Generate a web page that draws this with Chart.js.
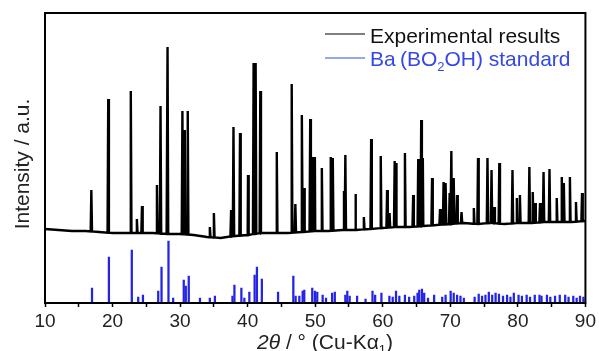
<!DOCTYPE html>
<html>
<head>
<meta charset="utf-8">
<script src="https://cdn.jsdelivr.net/npm/chart.js@4/dist/chart.umd.min.js"></script>
<style>
  body { margin: 0; background: #fff; }
  #wrap { width: 599px; height: 351px; }
</style>
</head>
<body>
<div id="wrap"><canvas id="xrd"></canvas></div>
<script>
// x tick labels (2theta, degrees)
const xTickLabels = [10, 20, 30, 40, 50, 60, 70, 80, 90];

// experimental pattern: background level read every 2 degrees (arbitrary units)
const baseDeg   = [10, 12, 14, 16, 18, 20, 22, 24, 26, 28, 30, 32, 34, 36, 38, 40, 42, 44, 46, 48,
                   50, 52, 54, 56, 58, 60, 62, 64, 66, 68, 70, 72, 74, 76, 78, 80, 82, 84, 86, 88, 90];
const baseLevel = [74, 73, 72, 72, 71, 70, 70, 70, 70, 69, 69, 68, 66, 65, 67, 68, 70, 70, 70, 71,
                   72, 72, 73, 73, 74, 75, 76, 76, 77, 78, 79, 80, 79, 80, 79, 80, 80, 81, 81, 81, 82];

// experimental peaks: position and peak top
const expPeakPos = [16.86, 19.36, 22.70, 23.60, 24.36, 26.57, 27.10, 28.14, 30.34, 30.69, 31.13, 34.40,
                    35.00, 37.55, 37.90, 38.87, 40.05, 40.88, 41.18, 41.87, 44.31, 46.52, 47.06, 48.04,
                    48.34, 49.26, 49.60, 49.95, 50.98, 52.30, 52.60, 54.26, 54.46, 55.99, 57.20, 58.28,
                    59.70, 60.64, 61.00, 61.76, 61.96, 63.28, 64.50, 65.25, 65.69, 65.93, 67.30, 68.48,
                    69.00, 69.30, 69.90, 70.15, 70.50, 71.00, 71.66, 73.48, 74.10, 75.50, 76.10, 76.50,
                    77.25, 79.20, 79.85, 80.30, 81.70, 82.20, 82.55, 83.28, 83.80, 84.68, 85.75, 86.50,
                    86.80, 87.70, 88.60, 89.50];
const expPeakTop = [113, 204, 212, 84, 97, 118, 197, 256, 192, 173, 192, 76,
                    90, 93, 176, 170, 128, 240, 240, 212, 151, 219, 99, 188,
                    115, 184, 146, 146, 135, 146, 145, 112, 148, 109, 86, 164,
                    147, 113, 90, 142, 140, 150, 108, 144, 183, 145, 125, 94,
                    121, 120, 110, 152, 125, 108, 91, 95, 145, 145, 133, 96,
                    140, 133, 105, 108, 136, 111, 100, 100, 131, 134, 105, 126,
                    120, 126, 101, 110];

// Ba(BO2OH) standard lines
const stdPos = [16.96, 19.46, 22.85, 23.80, 24.50, 26.76, 27.25, 28.28, 28.97, 30.54, 30.84, 31.28,
                32.94, 34.40, 35.15, 37.75, 38.04, 39.07, 39.51, 40.25, 41.03, 41.37, 42.10, 44.50,
                46.76, 47.10, 47.65, 48.14, 48.38, 49.56, 49.95, 50.30, 51.10, 51.60, 52.50, 52.90,
                54.46, 54.75, 55.10, 56.20, 57.45, 58.48, 58.87, 59.80, 60.98, 61.47, 61.96, 62.45,
                63.28, 63.90, 64.66, 65.15, 65.40, 65.80, 66.13, 66.70, 67.60, 68.80, 69.30, 70.05,
                70.50, 71.00, 71.50, 72.00, 73.60, 74.20, 74.70, 75.20, 75.70, 76.20, 76.70, 77.20,
                77.80, 78.40, 78.90, 79.40, 80.10, 80.60, 81.30, 81.80, 82.50, 83.20, 83.50, 84.30,
                84.80, 85.50, 86.20, 87.00, 87.50, 88.20, 88.70, 89.20, 89.70];
const stdHeight = [15, 46, 53, 6, 8, 12, 36, 62, 5, 23, 17, 27,
                   5, 5, 7, 7, 18, 15, 5, 11, 28, 36, 24, 11,
                   27, 7, 7, 12, 13, 15, 12, 11, 8, 5, 10, 11,
                   8, 12, 7, 7, 4, 12, 8, 10, 7, 6, 12, 7,
                   8, 6, 7, 10, 13, 14, 10, 5, 8, 6, 8, 12,
                   10, 8, 7, 5, 6, 9, 7, 8, 11, 8, 10, 9,
                   7, 8, 6, 10, 8, 7, 8, 6, 8, 8, 7, 8,
                   6, 7, 8, 8, 6, 7, 5, 7, 6];

const FONT = '"Liberation Sans", Arial, sans-serif';
const BLUE = '#2424e6';

function baseAt(x) {
  for (let i = 1; i < baseDeg.length; i++) {
    if (x <= baseDeg[i]) {
      const t = (x - baseDeg[i - 1]) / (baseDeg[i] - baseDeg[i - 1]);
      return baseLevel[i - 1] + t * (baseLevel[i] - baseLevel[i - 1]);
    }
  }
  return baseLevel[baseLevel.length - 1];
}

const expData = baseDeg.map((x, i) => ({x: x, y: baseLevel[i]}));
expPeakPos.forEach((x, i) => {
  const b = baseAt(x);
  expData.push({x: x - 0.1, y: b}, {x: x, y: expPeakTop[i]}, {x: x + 0.1, y: b});
});
expData.sort((a, b) => a.x - b.x);

const stdData = stdPos.map((x, i) => ({x: x, y: stdHeight[i]}));

// writes text pieces one after another; sub pieces are smaller and lowered
function drawRun(ctx, parts, x, y) {
  parts.forEach(p => {
    ctx.font = p.f;
    ctx.fillText(p.t, x, y + (p.dy || 0));
    x += ctx.measureText(p.t).width;
  });
}
function runWidth(ctx, parts) {
  let w = 0;
  parts.forEach(p => { ctx.font = p.f; w += ctx.measureText(p.t).width; });
  return w;
}

// draws the frame, the axis titles and the legend
const decor = {
  id: 'decor',
  afterDraw(chart) {
    const {ctx, chartArea: a} = chart;
    ctx.save();
    ctx.strokeStyle = '#000';
    ctx.lineWidth = 2;
    ctx.strokeRect(a.left, a.top, a.right - a.left, a.bottom - a.top);

    // y title
    ctx.fillStyle = '#222';
    ctx.font = '21px ' + FONT;
    ctx.textAlign = 'center';
    ctx.textBaseline = 'middle';
    ctx.translate(23, 164);
    ctx.rotate(-Math.PI / 2);
    ctx.fillText('Intensity / a.u.', 0, 0);
    ctx.setTransform(1, 0, 0, 1, 0, 0);

    // x title with italic 2theta and subscript 1
    ctx.textAlign = 'left';
    ctx.textBaseline = 'alphabetic';
    const xt = [
      {t: '2\u03B8', f: 'italic 21px ' + FONT},
      {t: ' / \u00B0 (Cu-K\u03B1', f: '21px ' + FONT},
      {t: '1', f: '13px ' + FONT, dy: 5},
      {t: ')', f: '21px ' + FONT}
    ];
    drawRun(ctx, xt, 325 - runWidth(ctx, xt) / 2, 349);

    // legend
    ctx.lineWidth = 1.2;
    ctx.strokeStyle = '#000';
    ctx.beginPath(); ctx.moveTo(325, 34); ctx.lineTo(365, 34); ctx.stroke();
    ctx.strokeStyle = '#3050e0';
    ctx.beginPath(); ctx.moveTo(325, 58); ctx.lineTo(365, 58); ctx.stroke();
    ctx.fillStyle = '#111';
    drawRun(ctx, [{t: 'Experimental results', f: '21px ' + FONT}], 370, 43);
    ctx.fillStyle = '#3348e6';
    drawRun(ctx, [
      {t: 'Ba\u2009(BO', f: '21px ' + FONT},
      {t: '2', f: '13px ' + FONT, dy: 5},
      {t: 'OH) standard', f: '21px ' + FONT}
    ], 370, 66);
    ctx.restore();
  }
};

new Chart(document.getElementById('xrd'), {
  type: 'line',
  data: {
    datasets: [
      {
        label: 'Experimental results',
        data: expData,
        borderColor: '#000',
        borderWidth: 2.4,
        pointRadius: 0,
        tension: 0
      },
      {
        type: 'bar',
        label: 'Ba(BO2OH) standard',
        data: stdData,
        backgroundColor: BLUE,
        barThickness: 1.6,
        grouped: false
      }
    ]
  },
  options: {
    responsive: true,
    maintainAspectRatio: false,
    animation: false,
    layout: { padding: { left: 45, right: 10, top: 13, bottom: 0 } },
    plugins: {
      legend: { display: false },
      tooltip: { enabled: false }
    },
    scales: {
      x: {
        type: 'linear',
        min: 10,
        max: 90,
        offset: false,
        grid: {
          offset: false,
          drawOnChartArea: false,
          drawTicks: true,
          tickLength: 4,
          tickColor: '#000',
          tickWidth: 1.5
        },
        border: { display: false },
        ticks: {
          stepSize: 5,
          autoSkip: false,
          maxRotation: 0,
          padding: 3,
          color: '#222',
          font: { family: FONT, size: 19 },
          callback: v => xTickLabels.includes(v) ? String(v) : ''
        },
        afterFit(scale) { scale.height = 48; }
      },
      y: {
        display: false,
        min: 0,
        max: 290
      }
    }
  },
  plugins: [decor]
});
</script>
</body>
</html>
